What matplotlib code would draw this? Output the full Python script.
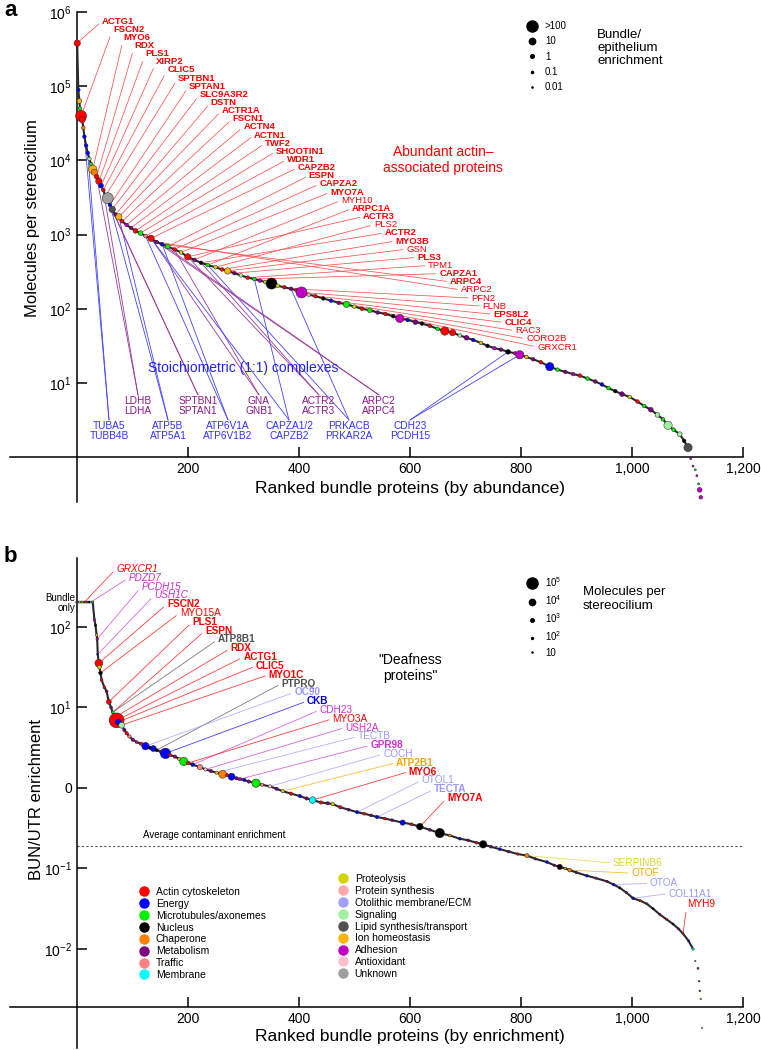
import numpy as np
import matplotlib
matplotlib.use('Agg')
import matplotlib.pyplot as plt
from matplotlib.lines import Line2D
from matplotlib.ticker import NullLocator

plt.rcParams['font.family'] = ['Liberation Sans', 'DejaVu Sans']
plt.rcParams['mathtext.fontset'] = 'custom'
plt.rcParams['mathtext.rm'] = 'Liberation Sans'
plt.rcParams['mathtext.it'] = 'Liberation Sans:italic'
plt.rcParams['mathtext.bf'] = 'Liberation Sans:bold'

# ---- categories ----
cat_codes = list('AEMNCBTRPSOGLIDXU')
cat_labels = ['Actin cytoskeleton', 'Energy', 'Microtubules/axonemes', 'Nucleus', 'Chaperone',
              'Metabolism', 'Traffic', 'Membrane', 'Proteolysis', 'Protein synthesis',
              'Otolithic membrane/ECM', 'Signaling', 'Lipid synthesis/transport',
              'Ion homeostasis', 'Adhesion', 'Antioxidant', 'Unknown']
cat_colors = ['#FF0000', '#0000FF', '#00EE00', '#000000', '#FF7F00',
              '#800080', '#FF8080', '#00FFFF', '#D4D400', '#FFA8A8',
              '#A0A0FF', '#A0F0A0', '#505050', '#FFB300', '#C000C0', '#FFC0CB', '#A0A0A0']
ccol = dict(zip(cat_codes, cat_colors))
text_col = dict(ccol, D='#CC33CC', O='#9999FF', L='#505050', I='#F5A800', P='#D8D820')

# ---- panel a: ranked by abundance ----
rank_a = [1, 3, 5, 6, 7, 8, 10, 12, 14, 17,
          20, 23, 26, 29, 32, 36, 40, 44, 48, 52,
          56, 60, 64, 70, 76, 82, 90, 98, 106, 115,
          124, 134, 144, 154, 164, 176, 188, 200, 212, 224,
          236, 250, 262, 272, 284, 296, 308, 320, 330, 340,
          351, 362, 374, 386, 396, 405, 418, 430, 444, 458,
          472, 486, 500, 514, 528, 542, 556, 570, 582, 596,
          610, 622, 636, 650, 663, 677, 690, 702, 714, 728,
          740, 752, 764, 777, 790, 798, 810, 822, 836, 852,
          866, 880, 894, 906, 920, 934, 946, 958, 970, 982,
          996, 1010, 1022, 1034, 1046, 1056, 1065, 1075, 1086, 1094,
          1101, 1106, 1110, 1114, 1117, 1120, 1122, 1124]
logmol_a = [5.58, 4.95, 4.80, 4.70, 4.64, 4.60, 4.55, 4.44, 4.32, 4.20,
            4.10, 4.02, 3.95, 3.88, 3.84, 3.78, 3.72, 3.66, 3.60, 3.52,
            3.49, 3.40, 3.34, 3.27, 3.24, 3.18, 3.13, 3.09, 3.05, 3.02,
            2.98, 2.95, 2.90, 2.87, 2.84, 2.80, 2.76, 2.70, 2.66, 2.62,
            2.59, 2.56, 2.53, 2.51, 2.48, 2.45, 2.42, 2.40, 2.38, 2.36,
            2.34, 2.31, 2.29, 2.27, 2.25, 2.22, 2.19, 2.17, 2.14, 2.11,
            2.08, 2.06, 2.03, 2.00, 1.98, 1.95, 1.93, 1.90, 1.87, 1.85,
            1.82, 1.80, 1.77, 1.73, 1.70, 1.68, 1.64, 1.61, 1.58, 1.54,
            1.50, 1.47, 1.45, 1.42, 1.40, 1.38, 1.35, 1.32, 1.28, 1.22,
            1.18, 1.15, 1.12, 1.10, 1.06, 1.02, 0.98, 0.93, 0.89, 0.85,
            0.81, 0.75, 0.69, 0.64, 0.57, 0.51, 0.43, 0.37, 0.31, 0.22,
            0.13, -0.02, -0.12, -0.17, -0.25, -0.36, -0.44, -0.54]
cat_a = ('AEIMMAACEE' 'EGMICAAEAN' 'UELBIADBAM' 'TABEMAPABN' 'MPAIBGAMDP'
         'NPABADSANE' 'BMPAMBANDE' 'BNAMAAGBEI' 'NDBNDDIBAE' 'MBDAMBEMNB'
         'PAMBGMGMGN' 'LDDMDMDD')
enr_a = [10, 1, 3, 1, 1, 100, 10, 1, 1, 1,
         1, 1, 1, 30, 10, 3, 10, 3, 1, 1,
         100, 1, 10, 1, 10, 1, 1, 1, 3, 3,
         1, 10, 1, 1, 3, 1, 1, 10, 1, 1,
         1, 1, 1, 10, 1, 1, 1, 1, 1, 1,
         100, 1, 1, 1, 1, 100, 1, 1, 1, 1,
         1, 10, 1, 1, 3, 1, 1, 1, 30, 1,
         3, 1, 1, 1, 30, 10, 1, 3, 1, 1,
         1, 1, 1, 3, 1, 30, 1, 1, 1, 30,
         1, 1, 1, 1, 1, 1, 1, 1, 1, 3,
         1, 1, 1, 3, 3, 1, 30, 1, 3, 1,
         30, 0.1, 0.1, 0.1, 0.1, 0.1, 3, 1]

red_names = ['ACTG1', 'FSCN2', 'MYO6', 'RDX', 'PLS1', 'XIRP2', 'CLIC5', 'SPTBN1', 'SPTAN1',
             'SLC9A3R2', 'DSTN', 'ACTR1A', 'FSCN1', 'ACTN4', 'ACTN1', 'TWF2', 'SHOOTIN1', 'WDR1',
             'CAPZB2', 'ESPN', 'CAPZA2', 'MYO7A', 'MYH10', 'ARPC1A', 'ACTR3', 'PLS2', 'ACTR2',
             'MYO3B', 'GSN', 'PLS3', 'TPM1', 'CAPZA1', 'ARPC4', 'ARPC2', 'PFN2', 'FLNB',
             'EPS8L2', 'CLIC4', 'RAC3', 'CORO2B', 'GRXCR1']
red_ranks = [1, 8, 29, 36, 40, 44, 48, 52, 60, 64, 70, 76, 82, 90, 98, 106, 115, 124,
             134, 164, 176, 188, 212, 236, 200, 250, 224, 262, 272, 284, 308, 320, 154, 144,
             386, 405, 430, 458, 486, 514, 542]
red_bold = [1, 1, 1, 1, 1, 1, 1, 1, 1, 1, 1, 1, 1, 1, 1, 1, 1, 1, 1, 1, 1, 1, 0, 1, 1, 0,
            1, 1, 0, 1, 0, 1, 1, 0, 0, 0, 1, 1, 0, 0, 0]

cx_labels = ['TUBA5\nTUBB4B', 'LDHB\nLDHA', 'ATP5B\nATP5A1', 'SPTBN1\nSPTAN1',
             'ATP6V1A\nATP6V1B2', 'GNA\nGNB1', 'CAPZA1/2\nCAPZB2', 'ACTR2\nACTR3',
             'PRKACB\nPRKAR2A', 'ARPC2\nARPC4', 'CDH23\nPCDH15']
cx_ranks = [(14, 20), (36, 48), (60, 76), (52, 60), (124, 154), (134, 176), (320, 134),
            (224, 200), (236, 386), (144, 154), (777, 798)]

# ---- panel b: ranked by enrichment ----
rank_b = [2, 5, 8, 11, 14, 17, 20, 23, 26, 29,
          32, 34, 36, 37, 38, 40, 41, 43, 45, 50,
          54, 58, 62, 65, 69, 72, 75, 81, 86, 90,
          95, 101, 108, 116, 124, 132, 138, 144, 152, 160,
          168, 177, 185, 193, 201, 209, 222, 232, 242, 252,
          263, 271, 279, 288, 294, 302, 310, 323, 334, 348,
          360, 371, 386, 402, 414, 425, 440, 452, 461, 475,
          490, 505, 518, 530, 541, 555, 568, 587, 603, 618,
          636, 654, 672, 690, 705, 720, 732, 746, 762, 778,
          794, 811, 826, 847, 860, 870, 880, 888, 900, 919,
          935, 955, 967, 978, 990, 1002, 1015, 1027, 1038, 1050,
          1062, 1074, 1084, 1092, 1102, 1110, 1114, 1119, 1121, 1122, 1124, 1126]
logenr_b = [2.31, 2.31, 2.31, 2.31, 2.31, 2.31, 2.31, 2.31, 2.31, 2.31,
            2.09, 2.02, 1.90, 1.85, 1.66, 1.55, 1.50, 1.43, 1.34, 1.25,
            1.20, 1.07, 1.00, 0.94, 0.88, 0.84, 0.82, 0.78, 0.72, 0.68,
            0.64, 0.60, 0.57, 0.55, 0.52, 0.50, 0.49, 0.47, 0.45, 0.43,
            0.41, 0.39, 0.36, 0.33, 0.31, 0.29, 0.26, 0.23, 0.21, 0.19,
            0.17, 0.16, 0.14, 0.12, 0.11, 0.10, 0.08, 0.06, 0.04, 0.02,
            -0.01, -0.04, -0.07, -0.10, -0.13, -0.15, -0.18, -0.19, -0.20, -0.24,
            -0.27, -0.30, -0.32, -0.34, -0.36, -0.38, -0.40, -0.43, -0.45, -0.48,
            -0.52, -0.56, -0.59, -0.63, -0.65, -0.68, -0.70, -0.73, -0.76, -0.79,
            -0.82, -0.84, -0.88, -0.92, -0.96, -0.98, -1.00, -1.02, -1.05, -1.09,
            -1.12, -1.16, -1.20, -1.24, -1.30, -1.37, -1.40, -1.44, -1.50, -1.57,
            -1.63, -1.69, -1.75, -1.81, -1.90, -2.00, -2.15, -2.24, -2.40, -2.52, -2.62, -2.98]
cat_b = ('DGMIAMDNGM' 'DNIDEAPNAA' 'BABMAAEGBA' 'TBDAENENAE' 'ABIMAETXBI'
         'CAEBDEBMTX' 'BPAEBRABPA' 'BEABEABEAN' 'BNCEBANBEB' 'ACBEBNICBE'
         'DBENBEABNB' 'ANBAERUDNNPU')
logmol_b = [2.0, 2.0, 2.0, 2.0, 2.0, 2.0, 2.0, 2.0, 2.0, 2.0,
            2.3, 2.3, 2.3, 2.3, 2.0, 4.3, 3.0, 3.0, 2.5, 2.5,
            2.5, 3.5, 2.5, 2.5, 3.0, 5.4, 3.8, 3.8, 2.8, 2.8,
            2.8, 2.8, 2.5, 2.8, 4.2, 2.8, 3.8, 2.8, 2.8, 4.8,
            2.8, 2.8, 2.8, 4.4, 3.0, 3.0, 3.6, 2.8, 2.8, 2.8,
            4.3, 2.8, 4.1, 2.8, 2.8, 2.8, 2.8, 4.4, 2.8, 2.8,
            2.8, 2.8, 2.8, 2.8, 2.8, 4.0, 2.8, 2.8, 2.8, 2.8,
            2.5, 2.8, 2.5, 2.5, 2.8, 2.5, 2.5, 3.6, 2.5, 4.0,
            2.5, 4.6, 2.5, 2.5, 2.5, 2.5, 4.2, 2.5, 2.5, 2.5,
            2.3, 3.2, 2.3, 2.5, 2.3, 3.6, 2.3, 3.0, 2.3, 2.5,
            2.2, 2.2, 2.5, 2.2, 2.2, 2.5, 2.0, 2.0, 2.0, 2.0,
            2.0, 2.0, 2.0, 2.0, 2.0, 2.2, 1.5, 2.0, 1.5, 1.5, 1.5, 1.2]
avg_contaminant = 0.19

b_names = ['GRXCR1', 'PDZD7', 'PCDH15', 'USH1C', 'FSCN2', 'MYO15A', 'PLS1', 'ESPN', 'ATP8B1',
           'RDX', 'ACTG1', 'CLIC5', 'MYO1C', 'PTPRQ', 'OC90', 'CKB', 'CDH23', 'MYO3A', 'USH2A',
           'TECTB', 'GPR98', 'COCH', 'ATP2B1', 'MYO6', 'OTOL1', 'TECTA', 'MYO7A']
b_ranks = [14, 26, 37, 38, 40, 43, 58, 65, 65, 69, 72, 75, 81, 144, 124, 160, 209, 201, 232,
           252, 294, 348, 371, 425, 505, 541, 618]
b_cats = 'ADDDAAAALAAAALOEDADODOIAOOA'
b_style = 'iiiibnbbbbbbbbbbnnnnbnbbnbb'
b2_names = ['SERPINB6', 'OTOF', 'OTOA', 'COL11A1', 'MYH9']
b2_ranks = [811, 888, 967, 1002, 1092]
b2_cats = 'PIOOA'

# ---- figure ----
W, H = 761.0, 1050.0
fig = plt.figure(figsize=(W / 100, H / 100), dpi=100)


def fp(px, py):
    return (px / W, 1 - py / H)


axA = fig.add_axes([10 / W, 1 - 502 / H, 733 / W, 490 / H])
axB = fig.add_axes([10 / W, 1 - 1048 / H, 733 / W, 490 / H])


def style(ax, ylim, xaxis_y, yticks, ylabels):
    ax.set_xlim(-120, 1200)
    ax.set_yscale('log')
    ax.set_ylim(*ylim)
    ax.patch.set_alpha(0)
    for s in ('top', 'right'):
        ax.spines[s].set_visible(False)
    ax.spines['left'].set_position(('data', 0))
    ax.spines['bottom'].set_position(('data', xaxis_y))
    for s in ('left', 'bottom'):
        ax.spines[s].set_linewidth(1.1)
    ax.set_xticks([200, 400, 600, 800, 1000, 1200])
    ax.set_xticklabels([f'{v:,}' for v in [200, 400, 600, 800, 1000, 1200]])
    ax.set_yticks(yticks)
    ax.set_yticklabels(ylabels)
    ax.yaxis.set_minor_locator(NullLocator())
    ax.tick_params(direction='in', length=7, width=1.1, labelsize=10, pad=3.5)


style(axA, (10 ** -0.604, 1e6), 1, [10 ** k for k in range(1, 7)],
      [f'10$^{{{k}}}$' for k in range(1, 7)])
style(axB, (10 ** -3.23, 10 ** 2.857), 10 ** -2.72, [1e-2, 1e-1, 1, 10, 100],
      ['10$^{-2}$', '10$^{-1}$', '0', '10$^{1}$', '10$^{2}$'])


def dot_px_a(e):
    return 3.3 * min(e, 100) ** 0.24


def dot_px_b(lm):
    return 10 ** (0.25 * (lm - 1))


# panel a curve and dots
ra = np.array(rank_a)
va = 10 ** np.array(logmol_a)
m = ra <= 1101
axA.plot(ra[m], va[m], color='#2a2a2a', lw=1.5, zorder=3)
axA.scatter(ra, va, s=[(dot_px_a(e) * 0.8) ** 2 for e in enr_a],
            c=[ccol[c] for c in cat_a], edgecolors='#222222', linewidths=0.35, zorder=4, clip_on=False)


def pt_a(r):
    i = int(np.argmin(np.abs(ra - r)))
    return ra[i], va[i]


for i, (name, r, b) in enumerate(zip(red_names, red_ranks, red_bold)):
    axA.annotate(name, xy=pt_a(r), xytext=fp(102 + i * 10.875, 21 + i * 8.15),
                 textcoords='figure fraction', ha='left', va='center', fontsize=6.8,
                 fontweight='bold' if b else 'normal', color='#FF0000', zorder=2,
                 arrowprops=dict(arrowstyle='-', color='#FF5050', lw=0.55, shrinkA=0.5,
                                 shrinkB=0, relpos=(0, 0.5)))

cx_x = [109, 138, 168, 198, 228, 259, 289, 319, 349, 379, 410]
for i, (lab, rr) in enumerate(zip(cx_labels, cx_ranks)):
    blue = (i % 2 == 0)
    tc = '#3333FF' if blue else '#8B1A8B'
    lc = '#4444FF' if blue else '#9A3A9A'
    top = 421 if blue else 396
    fig.text(*fp(cx_x[i], top), lab, ha='center', va='top', fontsize=7.3, color=tc,
             linespacing=1.05)
    for r in rr:
        axA.annotate('', xy=pt_a(r), xytext=fp(cx_x[i], top - 1), textcoords='figure fraction',
                     arrowprops=dict(arrowstyle='-', color=lc, lw=0.6, shrinkA=0, shrinkB=0),
                     zorder=2)

# panel b curve and dots
rb = np.array(rank_b)
vb = 10 ** np.array(logenr_b)
m = rb <= 1110
axB.plot(np.r_[0, rb[m]], np.r_[vb[0], vb[m]], color='#2a2a2a', lw=1.5, zorder=3)
axB.scatter(rb, vb, s=[(dot_px_b(lm) * 0.85) ** 2 for lm in logmol_b],
            c=[ccol[c] for c in cat_b], edgecolors='#222222', linewidths=0.35, zorder=4, clip_on=False)
axB.axhline(avg_contaminant, xmin=120 / 1320, xmax=1, color='#555555', lw=0.8, ls=(0, (2, 2)), zorder=1)
axB.text(120, avg_contaminant * 1.2, 'Average contaminant enrichment', fontsize=7, va='bottom')


def pt_b(r):
    i = int(np.argmin(np.abs(rb - r)))
    return rb[i], vb[i]


def b_label(name, r, c, st, px, py):
    axB.annotate(name, xy=pt_b(r), xytext=fp(px, py), textcoords='figure fraction',
                 ha='left', va='center', fontsize=7.2, color=text_col[c],
                 fontweight='bold' if st == 'b' else 'normal',
                 fontstyle='italic' if st == 'i' else 'normal', zorder=2,
                 arrowprops=dict(arrowstyle='-', color=text_col[c], alpha=0.75, lw=0.6,
                                 shrinkA=0.5, shrinkB=0, relpos=(0, 0.5)))


for i, (name, r, c, st) in enumerate(zip(b_names, b_ranks, b_cats, b_style)):
    b_label(name, r, c, st, 116 + i * 12.73, 569 + i * 8.81)
for i, (name, r, c) in enumerate(zip(b2_names, b2_ranks, b2_cats)):
    b_label(name, r, c, 'n', 613 + i * 18.5, 863 + i * 10.2)

# ---- texts ----
fig.text(*fp(4, 11), 'a', fontsize=16, fontweight='bold', va='center')
fig.text(*fp(4, 557), 'b', fontsize=16, fontweight='bold', va='center')
fig.text(*fp(410, 488), 'Ranked bundle proteins (by abundance)', fontsize=12.5, ha='center', va='center')
fig.text(*fp(410, 1037), 'Ranked bundle proteins (by enrichment)', fontsize=12.5, ha='center', va='center')
fig.text(*fp(33, 218), 'Molecules per stereocilium', fontsize=12, rotation=90, ha='center', va='center')
fig.text(*fp(37, 799), 'BUN/UTR enrichment', fontsize=12, rotation=90, ha='center', va='center')
fig.text(*fp(443, 160), 'Abundant actin\u2013\nassociated proteins', fontsize=10, color='#FF0000',
         ha='center', va='center', linespacing=1.1)
fig.text(*fp(243, 368), 'Stoichiometric (1:1) complexes', fontsize=10, color='#2222FF',
         ha='center', va='center')
fig.text(*fp(597, 48), 'Bundle/\nepithelium\nenrichment', fontsize=9.5, ha='left', va='center',
         linespacing=1.15)
fig.text(*fp(583, 599), 'Molecules per\nstereocilium', fontsize=9.5, ha='left', va='center',
         linespacing=1.15)
fig.text(*fp(410, 668), '"Deafness\nproteins"', fontsize=10, ha='center', va='center', linespacing=1.15)
fig.text(*fp(75, 603), 'Bundle\nonly', fontsize=7, ha='right', va='center', linespacing=1.0)

# ---- legends ----
enr_keys = [100, 10, 1, 0.1, 0.01]
h_a = [Line2D([], [], ls='', marker='o', color='k', markersize=dot_px_a(e) * 0.8) for e in enr_keys]
fig.legend(h_a, ['>100', '10', '1', '0.1', '0.01'], loc='upper left',
           bbox_to_anchor=fp(527, 21), frameon=False, fontsize=7, borderpad=0,
           handlelength=1.0, handletextpad=0.85, labelspacing=0.55, borderaxespad=0)
mol_keys = [5, 4, 3, 2, 1]
h_b = [Line2D([], [], ls='', marker='o', color='k', markersize=dot_px_b(k) * 0.8) for k in mol_keys]
fig.legend(h_b, ['10$^{5}$', '10$^{4}$', '10$^{3}$', '10$^{2}$', '10'], loc='upper left',
           bbox_to_anchor=fp(527, 575), frameon=False, fontsize=7, borderpad=0,
           handlelength=1.0, handletextpad=0.85, labelspacing=0.45, borderaxespad=0)

h_c = [Line2D([], [], ls='', marker='o', color=c, markersize=6.5) for c in cat_colors]
fig.legend(h_c[:8], cat_labels[:8], loc='upper left', bbox_to_anchor=fp(138, 887),
           frameon=False, fontsize=7.5, borderpad=0, handlelength=1.2, handletextpad=0.5,
           labelspacing=0.18, borderaxespad=0)
fig.legend(h_c[8:], cat_labels[8:], loc='upper left', bbox_to_anchor=fp(337, 874),
           frameon=False, fontsize=7.5, borderpad=0, handlelength=1.2, handletextpad=0.5,
           labelspacing=0.18, borderaxespad=0)

fig.savefig('out.png', dpi=100)
